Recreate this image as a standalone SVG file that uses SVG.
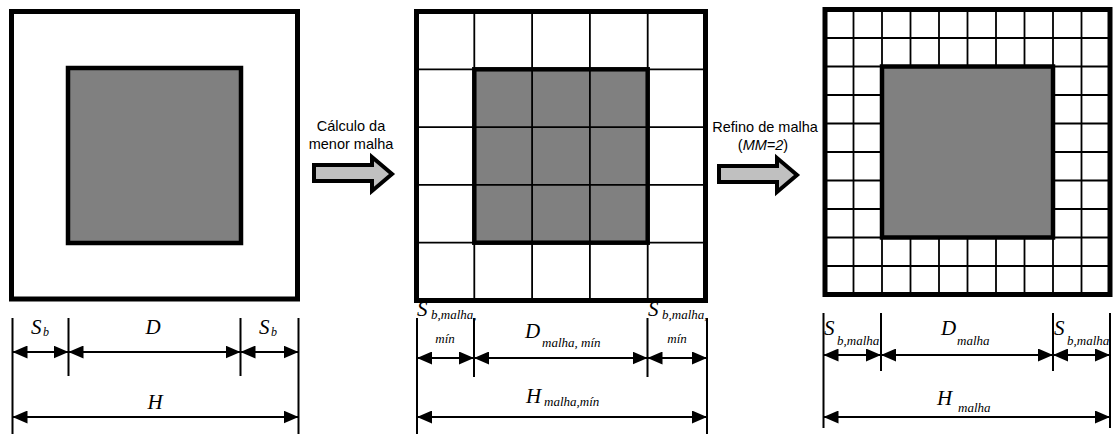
<svg xmlns="http://www.w3.org/2000/svg" width="1115" height="434" viewBox="0 0 1115 434">
<style>
.outer{fill:none;stroke:#000;stroke-width:5}
.inner{fill:#808080;stroke:#000;stroke-width:4.5}
.innerb{fill:none;stroke:#000;stroke-width:4.5}
.grid{stroke:#000;stroke-width:1.8;fill:none}
.ext{stroke:#000;stroke-width:2}
.dim{stroke:#000;stroke-width:1.8;marker-start:url(#ah);marker-end:url(#ah)}
.blk{fill:#c0c0c0;stroke:#000;stroke-width:4;stroke-linejoin:miter}
.lbl{font-family:"Liberation Sans",Arial,sans-serif;font-size:14.5px;fill:#000;text-anchor:middle}
.m{font-family:"Liberation Serif","Times New Roman",serif;font-style:italic;fill:#000}
.big{font-size:21px}
.sub{font-size:13px}
</style>
<defs>
<marker id="ah" viewBox="0 0 15 13" refX="15" refY="6.5" markerWidth="15" markerHeight="13" markerUnits="userSpaceOnUse" orient="auto-start-reverse">
<path d="M0,0 L15,6.5 L0,13 z" fill="#000"/>
</marker>
</defs>
<rect width="1115" height="434" fill="#fff"/>

<g id="panel1">
<rect x="11.5" y="11.5" width="286" height="287.5" fill="#fff" class="outer"/>
<rect x="68" y="68" width="173" height="175" class="inner"/>
</g>

<g id="panel2">
<rect x="416.5" y="11.5" width="289" height="289" fill="#fff"/>
<rect x="474.3" y="69.3" width="173.4" height="173.4" fill="#808080"/>
<path class="grid" d="M474.3,11.5V300.5M532.1,11.5V300.5M589.9,11.5V300.5M647.7,11.5V300.5M416.5,69.3H705.5M416.5,127.1H705.5M416.5,184.9H705.5M416.5,242.7H705.5"/>
<rect x="474.3" y="69.3" width="173.4" height="173.4" class="innerb"/>
<rect x="416.5" y="11.5" width="289" height="289" class="outer"/>
</g>

<g id="panel3">
<rect x="825" y="9.5" width="285" height="285" fill="#fff"/>
<path class="grid" d="M853.5,9.5V294.5M882,9.5V294.5M910.5,9.5V294.5M939,9.5V294.5M967.5,9.5V294.5M996,9.5V294.5M1024.5,9.5V294.5M1053,9.5V294.5M1081.5,9.5V294.5M825,38H1110M825,66.5H1110M825,95H1110M825,123.5H1110M825,152H1110M825,180.5H1110M825,209H1110M825,237.5H1110M825,266H1110"/>
<rect x="882" y="66.5" width="171" height="171" class="inner"/>
<rect x="825" y="9.5" width="285" height="285" class="outer"/>
</g>

<g id="step1">
<text class="lbl" x="351" y="131">Cálculo da</text>
<text class="lbl" x="351" y="149">menor malha</text>
</g>
<g id="step2">
<text class="lbl" x="765" y="132">Refino de malha</text>
<text class="lbl" x="763" y="150">(<tspan font-style="italic">MM=2</tspan>)</text>
</g>

<g id="connectors">
<polygon class="blk" points="314,165 372,165 372,157 392,174 372,191 372,181 314,181"/>
<polygon class="blk" points="719,166 777,166 777,158 797,175 777,192 777,182 719,182"/>

<path class="ext" d="M12.5,318V434M68.5,318V376M240.5,318V376M298.5,318V434"/>
<line class="dim" x1="12.5" y1="352" x2="68.5" y2="352"/>
<line class="dim" x1="68.5" y1="352" x2="240.5" y2="352"/>
<line class="dim" x1="240.5" y1="352" x2="298.5" y2="352"/>
<line class="dim" x1="12.5" y1="417" x2="298.5" y2="417"/>

<path class="ext" d="M417,318V434M474,318V377M647.5,318V377M707,318V434"/>
<line class="dim" x1="417" y1="358" x2="474" y2="358"/>
<line class="dim" x1="474" y1="358" x2="647.5" y2="358"/>
<line class="dim" x1="647.5" y1="358" x2="707" y2="358"/>
<line class="dim" x1="417" y1="417" x2="707" y2="417"/>

<path class="ext" d="M823.5,313V428M881,313V371M1053,313V371M1110,313V428"/>
<line class="dim" x1="823.5" y1="355" x2="881" y2="355"/>
<line class="dim" x1="881" y1="355" x2="1053" y2="355"/>
<line class="dim" x1="1053" y1="355" x2="1110" y2="355"/>
<line class="dim" x1="823.5" y1="417" x2="1110" y2="417"/>
</g>

<g id="labels">
<text class="m big" x="31" y="334">S</text><text class="m" font-size="12" x="43" y="336">b</text>
<text class="m big" x="259" y="334">S</text><text class="m" font-size="12" x="271" y="336">b</text>
<text class="m big" x="153" y="334" text-anchor="middle">D</text>
<text class="m big" x="155" y="409" text-anchor="middle">H</text>

<text class="m big" x="417" y="316">S</text><text class="m sub" x="431" y="319">b,malha,</text>
<text class="m sub" x="445" y="343" text-anchor="middle">mín</text>
<text class="m big" x="648" y="316">S</text><text class="m sub" x="662" y="319">b,malha,</text>
<text class="m sub" x="677" y="343" text-anchor="middle">mín</text>
<text class="m big" x="525" y="338">D</text><text class="m sub" x="542" y="347">malha, mín</text>
<text class="m big" x="526" y="403">H</text><text class="m sub" x="544" y="406">malha,mín</text>

<text class="m big" x="824" y="335">S</text><text class="m sub" x="837" y="345">b,malha</text>
<text class="m big" x="1054" y="335">S</text><text class="m sub" x="1067" y="345">b,malha</text>
<text class="m big" x="941" y="335">D</text><text class="m sub" x="957" y="345">malha</text>
<text class="m big" x="937" y="405">H</text><text class="m sub" x="958" y="412">malha</text>
</g>
</svg>
